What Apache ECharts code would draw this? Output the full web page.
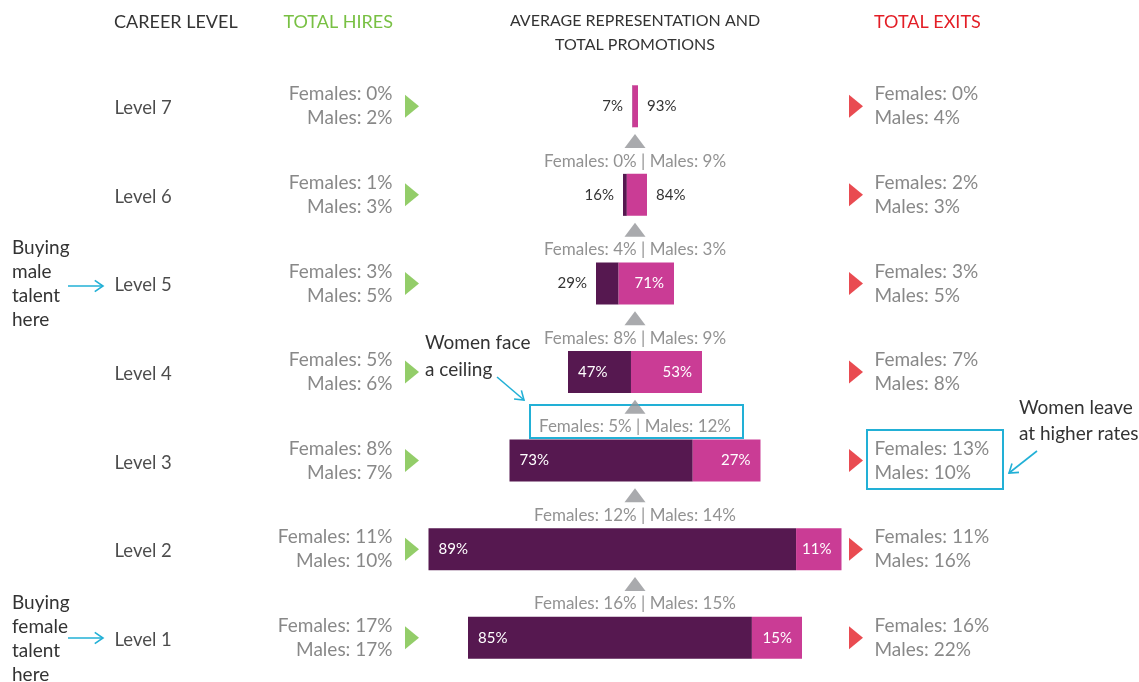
<!DOCTYPE html>
<html>
<head>
<meta charset="utf-8">
<script src="https://cdn.jsdelivr.net/npm/echarts@6/dist/echarts.min.js"></script>
<style>
  html, body { margin: 0; padding: 0; background: #fff; }
  #chart { width: 1139px; height: 682px; }
</style>
</head>
<body>
<div id="chart"></div>
<script>
// data, bottom level first
const levels = ['Level 1', 'Level 2', 'Level 3', 'Level 4', 'Level 5', 'Level 6', 'Level 7'];
const headcount = [334, 413, 251, 134, 78, 24, 6];   // relative size of each level
const femaleShare = [85, 89, 73, 47, 29, 16, 7];
const hiresF = [17, 11, 8, 5, 3, 1, 0];
const hiresM = [17, 10, 7, 6, 5, 3, 2];
const exitsF = [16, 11, 13, 7, 3, 2, 0];
const exitsM = [22, 16, 10, 8, 5, 3, 4];
// promotions between level i+1 and i+2
const promoF = [16, 12, 5, 8, 4, 0];
const promoM = [15, 14, 12, 9, 3, 9];

const FONT = 'Lato, "Open Sans", sans-serif';
const PURPLE = '#561850';
const PINK = '#ca3c95';
const GREEN = '#78c043';
const RED = '#e31e26';
const CYAN = '#22b0d6';
const GREY = '#6a6a6a';
const CENTER = 635;

const femaleW = headcount.map((v, i) => v * femaleShare[i] / 100);
const maleW = headcount.map((v, i) => v - femaleW[i]);
const offset = headcount.map(v => CENTER - v / 2);

function barLabel(inside, pos) {
  return inside
    ? { show: true, position: pos, distance: 10, color: '#fff', fontSize: 15, fontFamily: FONT }
    : { show: true, position: pos === 'insideLeft' ? 'left' : 'right', distance: 9, color: '#333', fontSize: 15, fontFamily: FONT };
}

function textCol(x, pos, fmt, color, size, extra) {
  return {
    type: 'scatter',
    symbolSize: 1,
    itemStyle: { color: 'transparent' },
    silent: true,
    data: levels.map((l, i) => [x, i]),
    label: Object.assign({
      show: true, position: pos, distance: 0,
      color: color, fontSize: size, fontFamily: FONT, lineHeight: 24,
      formatter: fmt
    }, extra || {})
  };
}

const rightTri = 'path://M0,0L1,0.5L0,1Z';

function arrow(x1, y1, x2, y2) {
  const a = Math.atan2(y2 - y1, x2 - x1);
  const h = 10, w = 0.6;
  return {
    type: 'group',
    children: [
      { type: 'line', shape: { x1, y1, x2, y2 }, style: { stroke: CYAN, lineWidth: 1.6 } },
      { type: 'polyline', shape: { points: [
        [x2 - h * Math.cos(a - w), y2 - h * Math.sin(a - w)],
        [x2, y2],
        [x2 - h * Math.cos(a + w), y2 - h * Math.sin(a + w)]
      ] }, style: { stroke: CYAN, lineWidth: 1.6, fill: null } }
    ]
  };
}

function txt(x, y, text, opts) {
  return {
    type: 'text', x, y,
    style: Object.assign({
      text, fill: '#333', font: '19px ' + FONT, verticalAlign: 'middle', align: 'left'
    }, opts || {})
  };
}

const chart = echarts.init(document.getElementById('chart'));

chart.setOption({
  animation: false,
  grid: { left: 0, top: 62, width: 1139, height: 621 },
  xAxis: { type: 'value', min: 0, max: 1139, show: false },
  yAxis: [
    { type: 'category', data: levels, show: false },
    { type: 'value', min: 0.5, max: 7.5, show: false }
  ],
  graphic: [
    txt(114, 22, 'CAREER LEVEL', { fill: '#333', font: '18px ' + FONT }),
    txt(393, 22, 'TOTAL HIRES', { fill: GREEN, align: 'right', font: '18px ' + FONT }),
    txt(635, 33, 'AVERAGE REPRESENTATION AND\nTOTAL PROMOTIONS', { fill: '#333', align: 'center', font: '16px ' + FONT, lineHeight: 24 }),
    txt(874, 22, 'TOTAL EXITS', { fill: RED, font: '18px ' + FONT }),
    txt(12, 284, 'Buying\nmale\ntalent\nhere', { lineHeight: 24 }),
    txt(12, 639, 'Buying\nfemale\ntalent\nhere', { lineHeight: 24 }),
    arrow(68, 286, 103, 286),
    arrow(68, 638, 103, 638),
    txt(425, 356, 'Women face\na ceiling', { lineHeight: 27 }),
    arrow(497, 377, 524, 400),
    { type: 'rect', shape: { x: 530, y: 405, width: 213, height: 33 }, style: { fill: null, stroke: CYAN, lineWidth: 2 } },
    txt(1019, 421, 'Women leave\nat higher rates', { lineHeight: 26 }),
    arrow(1037, 451, 1009, 473),
    { type: 'rect', shape: { x: 867, y: 430, width: 136, height: 59 }, style: { fill: null, stroke: CYAN, lineWidth: 2 } }
  ],
  series: [
    {
      type: 'bar', stack: 'rep', barWidth: 42, silent: true,
      itemStyle: { color: 'transparent' },
      data: offset
    },
    {
      type: 'bar', stack: 'rep', barWidth: 42, silent: true,
      itemStyle: { color: PURPLE },
      data: femaleW.map((w, i) => ({
        value: w,
        label: Object.assign(barLabel(w >= 30, 'insideLeft'), { formatter: femaleShare[i] + '%' })
      }))
    },
    {
      type: 'bar', stack: 'rep', barWidth: 42, silent: true,
      itemStyle: { color: PINK },
      data: maleW.map((w, i) => ({
        value: w,
        label: Object.assign(barLabel(w >= 30, 'insideRight'), { formatter: (100 - femaleShare[i]) + '%' })
      }))
    },
    textCol(114, 'right', p => levels[p.dataIndex], '#1e1e1e', 18.5, { offset: [0, 2] }),
    textCol(393, 'left', p => 'Females: ' + hiresF[p.dataIndex] + '%\nMales: ' + hiresM[p.dataIndex] + '%', GREY, 19),
    textCol(874, 'right', p => 'Females: ' + exitsF[p.dataIndex] + '%\nMales: ' + exitsM[p.dataIndex] + '%', GREY, 19),
    {
      type: 'scatter', silent: true,
      symbol: rightTri, symbolSize: [14, 23], symbolKeepAspect: false,
      itemStyle: { color: GREEN },
      data: levels.map((l, i) => [412, i])
    },
    {
      type: 'scatter', silent: true,
      symbol: rightTri, symbolSize: [14, 23], symbolKeepAspect: false,
      itemStyle: { color: RED },
      data: levels.map((l, i) => [856, i])
    },
    {
      type: 'scatter', silent: true, yAxisIndex: 1,
      symbol: 'triangle', symbolSize: [21, 14], symbolOffset: [0, -9.5],
      itemStyle: { color: '#939598' },
      data: promoF.map((f, i) => [CENTER, i + 1.5])
    },
    {
      type: 'scatter', silent: true, yAxisIndex: 1,
      symbolSize: 1, itemStyle: { color: 'transparent' },
      data: promoF.map((f, i) => [CENTER, i + 1.5]),
      label: {
        show: true, position: 'inside', offset: [0, 10.5],
        color: '#777', fontSize: 17, fontFamily: FONT,
        formatter: p => 'Females: ' + promoF[p.dataIndex] + '% | Males: ' + promoM[p.dataIndex] + '%'
      }
    }
  ]
});
</script>
</body>
</html>
